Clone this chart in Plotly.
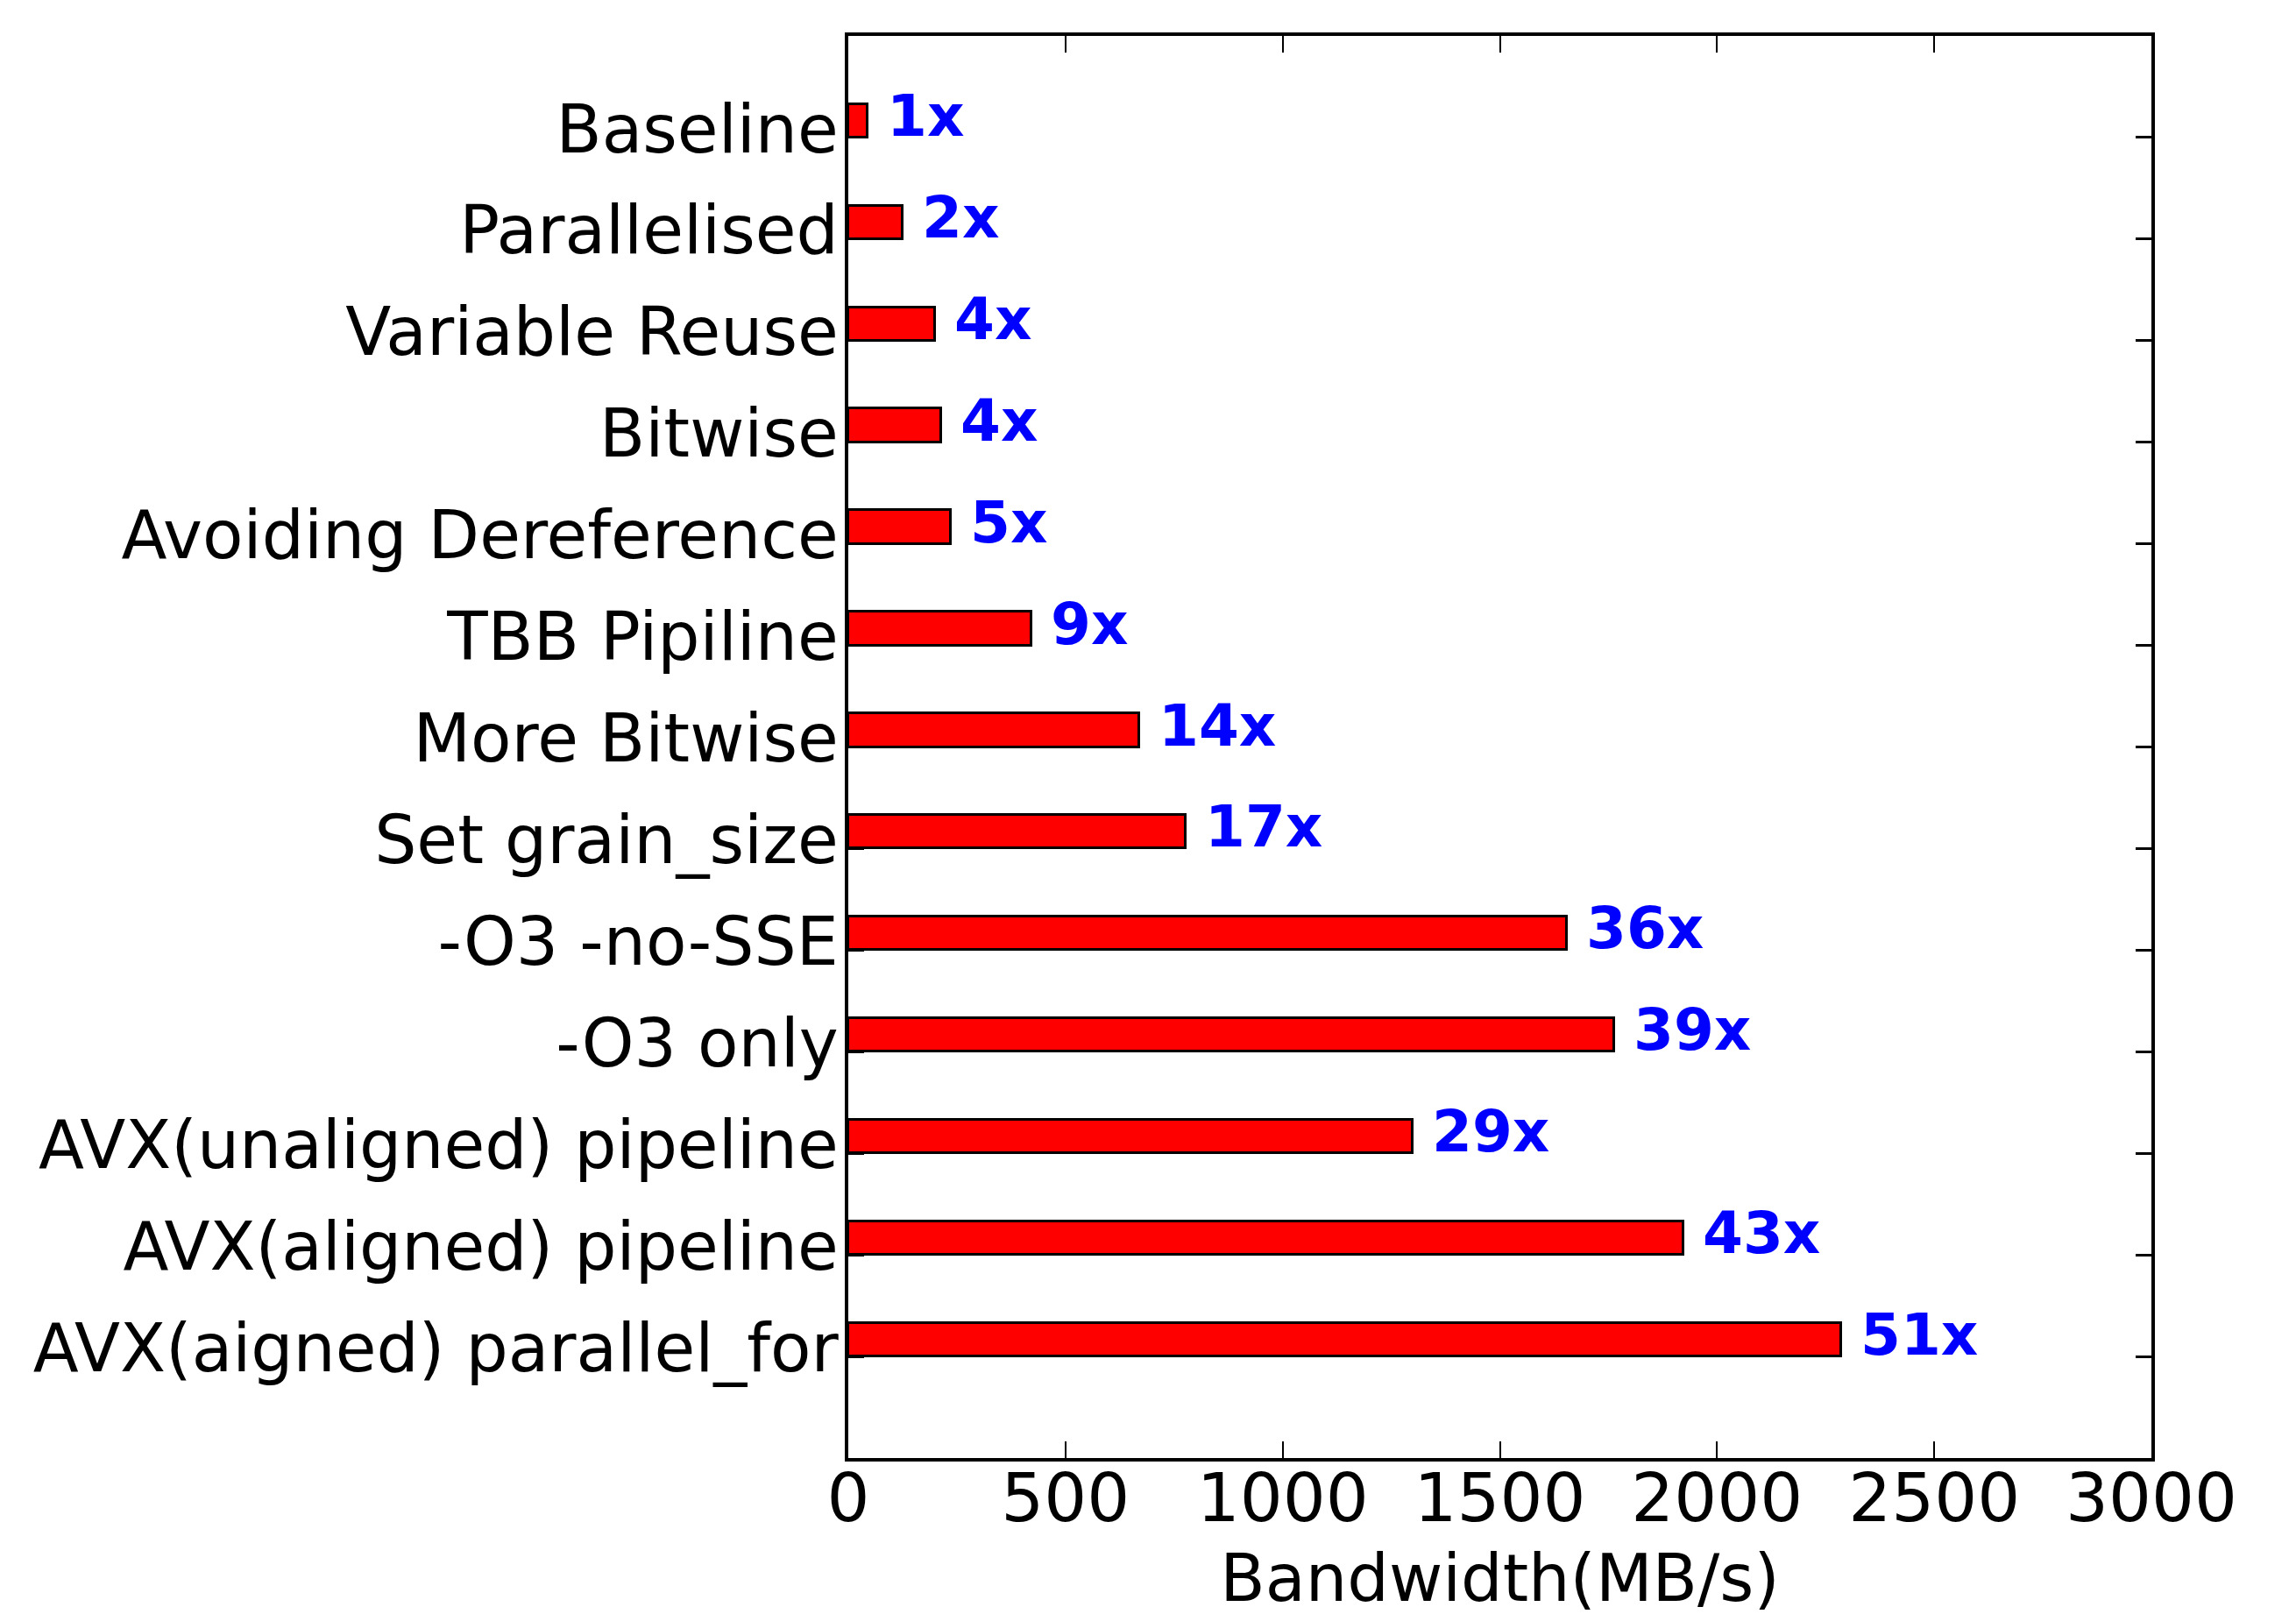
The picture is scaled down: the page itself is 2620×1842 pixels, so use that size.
import plotly.graph_objects as go

categories = [
    "Baseline", "Parallelised", "Variable Reuse", "Bitwise",
    "Avoiding Dereference", "TBB Pipiline", "More Bitwise",
    "Set grain_size", "-O3 -no-SSE", "-O3 only",
    "AVX(unaligned) pipeline", "AVX(aligned) pipeline",
    "AVX(aigned) parallel_for",
]
bandwidth = [45, 126, 200, 214, 237, 422, 669, 777, 1654, 1763, 1300, 1922, 2286]
speedup = ["1x", "2x", "4x", "4x", "5x", "9x", "14x", "17x", "36x", "39x", "29x", "43x", "51x"]
x_ticks = [0, 500, 1000, 1500, 2000, 2500, 3000]

positions = list(range(len(categories)))
BAR_W = 0.33
FONT = "DejaVu Sans"

fig = go.Figure()
fig.add_trace(go.Bar(
    x=bandwidth,
    y=positions,
    orientation="h",
    width=BAR_W,
    offset=-BAR_W,
    marker=dict(color="#FF0000", line=dict(color="black", width=3)),
    showlegend=False,
    hoverinfo="x+y",
))

for xv, yv, t in zip(bandwidth, positions, speedup):
    fig.add_annotation(
        x=xv, y=yv, xref="x", yref="y", text="<b>%s</b>" % t,
        showarrow=False, xanchor="left", yanchor="bottom",
        xshift=20, yshift=-16,
        font=dict(family=FONT, size=66, color="#0000FF"),
    )

fig.update_layout(
    width=2620, height=1842,
    margin=dict(l=960, r=173, t=33, b=186),
    paper_bgcolor="white", plot_bgcolor="white",
    font=dict(family=FONT, color="black"),
    bargap=0,
)
fig.update_xaxes(
    range=[0, 3000], tickvals=x_ticks, ticktext=[str(v) for v in x_ticks],
    showgrid=False, zeroline=False,
    showline=True, linecolor="black", linewidth=4, mirror="ticks",
    ticks="inside", ticklen=19, tickwidth=2, tickcolor="black",
    ticklabelstandoff=-24,
    tickfont=dict(family=FONT, size=77, color="black"),
    title=dict(text="Bandwidth(MB/s)", font=dict(family=FONT, size=75, color="black"), standoff=22),
)
fig.update_yaxes(
    range=[len(categories), -1], tickvals=positions, ticktext=categories,
    showgrid=False, zeroline=False,
    showline=True, linecolor="black", linewidth=4, mirror="ticks",
    ticks="inside", ticklen=18, tickwidth=3, tickcolor="black",
    ticklabelshift=10, ticklabelstandoff=-8,
    tickfont=dict(family=FONT, size=76, color="black"),
)

fig.write_html("out.html")
